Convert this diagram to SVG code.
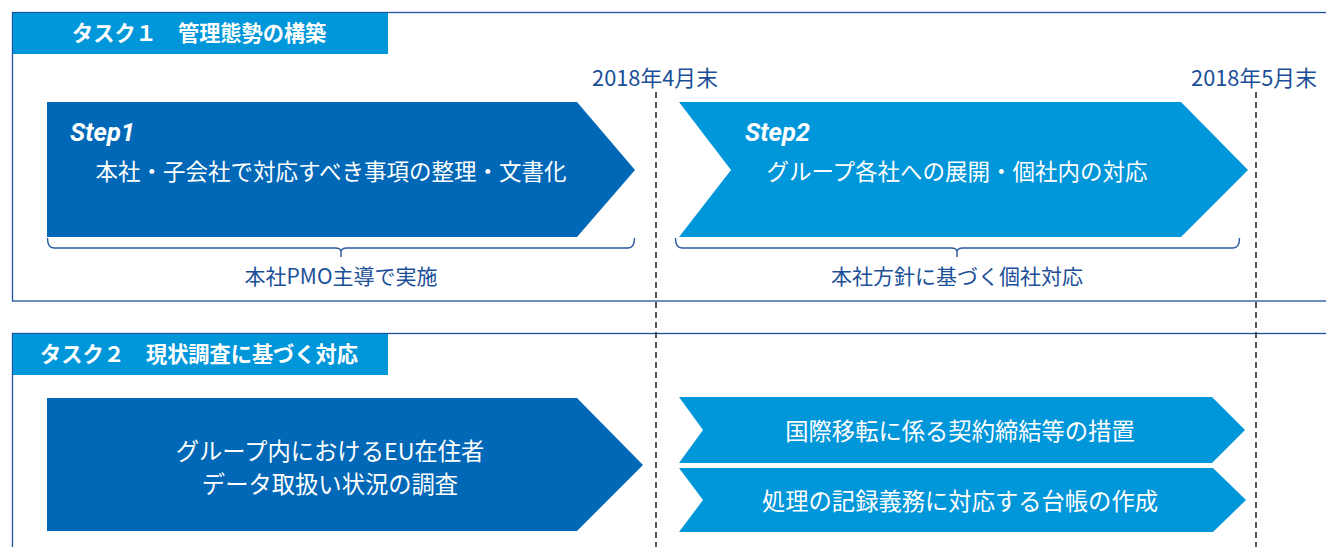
<svg xmlns="http://www.w3.org/2000/svg" width="1326" height="547" viewBox="0 0 1326 547">
<style>
.panel{fill:#fff;stroke:#1d53a0;stroke-width:1.3}
.tab{fill:#0096da}
.dark{fill:#0068b6}
.light{fill:#0096da}
.tabt{font-family:"Noto Sans CJK JP",sans-serif;font-weight:700;font-size:21.2px;fill:#fff}
.wt{font-family:"Noto Sans CJK JP",sans-serif;font-size:22.5px;fill:#fff;text-anchor:middle}
.wt2{font-family:"Noto Sans CJK JP",sans-serif;font-size:23.3px;fill:#fff;text-anchor:middle}
.step{font-family:Roboto,"Liberation Sans",sans-serif;font-weight:700;font-style:italic;font-size:25.5px;fill:#fff}
.bt{font-family:"Noto Sans CJK JP",sans-serif;font-size:21px;fill:#1b4f98;text-anchor:middle}
.date{font-family:"Noto Sans CJK JP",sans-serif;font-size:21.8px;fill:#1b4f98;text-anchor:middle}
.brace{fill:none;stroke:#2a5a9e;stroke-width:1.4}
.dash{stroke:#222;stroke-width:1.5;stroke-dasharray:6 4}
</style>
<rect width="1326" height="547" fill="#fff"/>
<g id="panel1">
<rect class="panel" x="12.5" y="12.5" width="1330" height="288.5"/>
<rect class="tab" x="13" y="13" width="375" height="41"/>
<text class="tabt" x="72" y="41">タスク１　管理態勢の構築</text>
</g>
<g id="panel2">
<rect class="panel" x="12.5" y="333.5" width="1330" height="230"/>
<rect class="tab" x="13" y="334" width="375" height="41"/>
<text class="tabt" x="40" y="362">タスク２　現状調査に基づく対応</text>
</g>
<g id="connectors">
<line class="dash" x1="656" y1="92" x2="656" y2="547"/>
<line class="dash" x1="1256" y1="92" x2="1256" y2="547"/>
<path class="brace" d="M47.5,238 Q47.5,248 54,248 L335,248 Q341,248 341,252 L341,257 M341,252 Q341,248 347,248 L628,248 Q634.5,248 634.5,238"/>
<path class="brace" d="M675.5,238 Q675.5,248 682,248 L951,248 Q957,248 957,252 L957,257 M957,252 Q957,248 963,248 L1233,248 Q1239.5,248 1239.5,238"/>
</g>
<g id="date1"><text class="date" x="655" y="86">2018年4月末</text></g>
<g id="date2"><text class="date" x="1254" y="86">2018年5月末</text></g>
<g id="step1">
<polygon class="dark" points="47,102 577,102 635,170 577,237 47,237"/>
<text class="step" x="70" y="141">Step1</text>
<text class="wt" x="331" y="180">本社・子会社で対応すべき事項の整理・文書化</text>
</g>
<g id="step2">
<polygon class="light" points="679,102 1181,102 1248,170 1181,237 679,237 731,170"/>
<text class="step" x="745" y="141">Step2</text>
<text class="wt" x="957" y="180">グループ各社への展開・個社内の対応</text>
</g>
<g id="label1"><text class="bt" x="341" y="284">本社PMO主導で実施</text></g>
<g id="label2"><text class="bt" x="957" y="284">本社方針に基づく個社対応</text></g>
<g id="survey">
<polygon class="dark" points="47,398 577,398 643,465 577,531 47,531"/>
<text class="wt2" x="330" y="460">グループ内におけるEU在住者</text>
<text class="wt2" x="330" y="493">データ取扱い状況の調査</text>
</g>
<g id="transfer">
<polygon class="light" points="679,397 1212,397 1245,430 1212,463 679,463 703,430"/>
<text class="wt2" x="960" y="440">国際移転に係る契約締結等の措置</text>
</g>
<g id="ledger">
<polygon class="light" points="679,468 1213,468 1246,500 1213,532 679,532 703,500"/>
<text class="wt2" x="960" y="510">処理の記録義務に対応する台帳の作成</text>
</g>
</svg>
